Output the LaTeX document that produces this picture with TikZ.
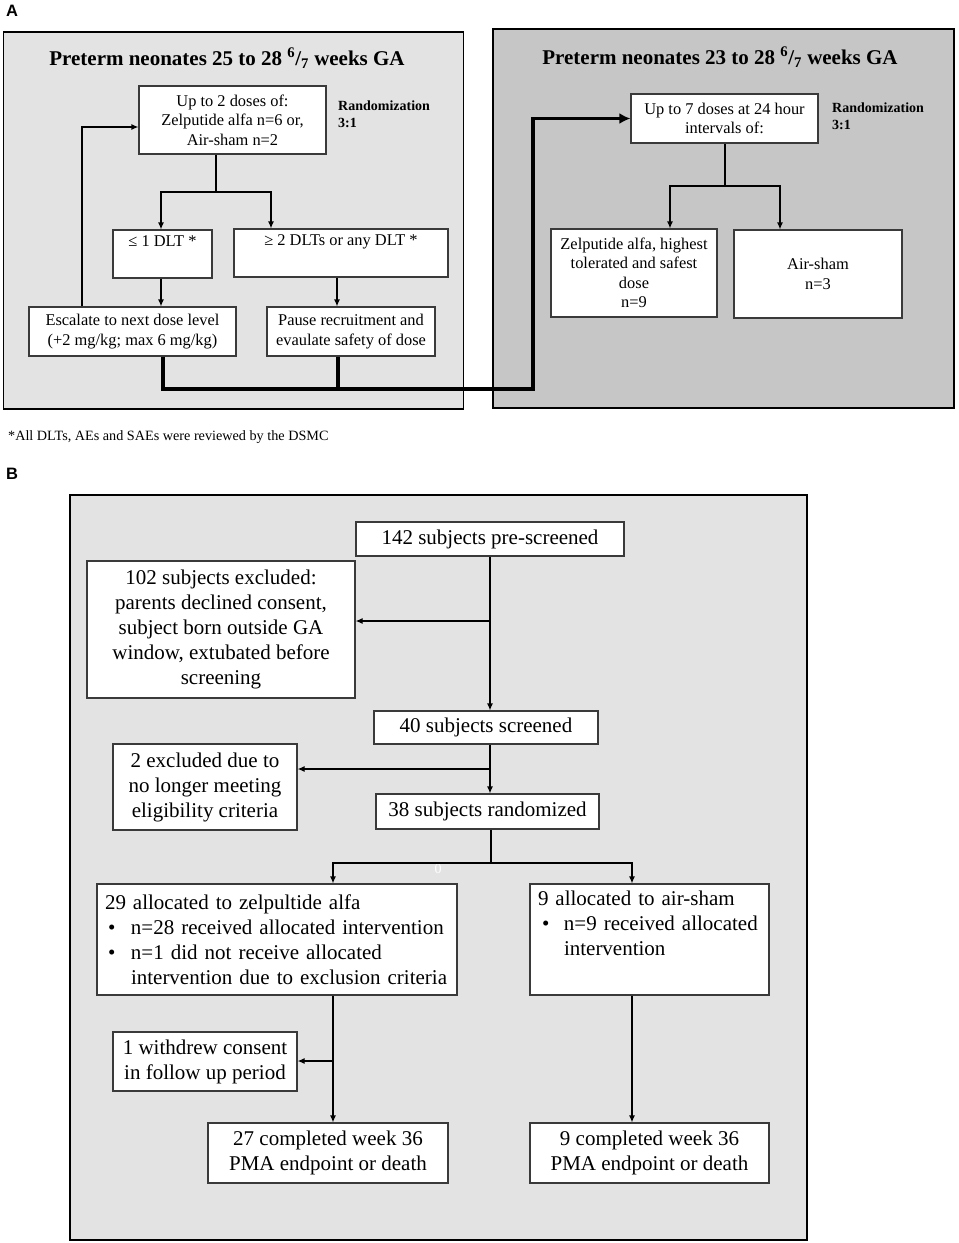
\documentclass[tikz,border=0pt]{standalone}
\usepackage{fontspec}
\setmainfont{Liberation Serif}
\newfontfamily\labfont{Liberation Sans}
\usetikzlibrary{arrows.meta,calc}
\definecolor{panelL}{HTML}{E3E3E3}
\definecolor{panelR}{HTML}{C6C6C6}
\definecolor{boxline}{HTML}{3A3A3A}
\begin{document}
\begin{tikzpicture}[x=1pt,y=-1pt,
  panel/.style={draw=black,line width=1.8pt,inner sep=0pt},
  box/.style={draw=boxline,fill=white,line width=1.2pt,inner sep=0pt,align=center},
  fa/.style={font=\fontsize{16.4}{19.5}\selectfont},
  fb/.style={font=\fontsize{21}{25}\selectfont},
  titlefont/.style={inner sep=0pt,font=\bfseries\fontsize{21}{25}\selectfont},
  randlab/.style={anchor=west,align=left,inner sep=0pt,font=\bfseries\fontsize{14}{16.5}\selectfont},
  panellab/.style={inner sep=0pt,font=\labfont\bfseries\fontsize{16.5}{16.5}\selectfont},
  conn/.style={line width=1.2pt},
  arr/.style={conn,-{Latex[length=7pt,width=6pt]}},
  thickline/.style={line width=3.5pt},
  thickarr/.style={thickline,-{Latex[length=11pt,width=11pt]}}]
\fill[white] (0,0) rectangle (959,1243);
\useasboundingbox (0,0) rectangle (959,1243);

% ---------- Panel A ----------
\node[panellab] (LA) at (12,11) {A};
\node[panel,fill=panelL,minimum width=460pt,minimum height=377pt] (pL) at (233.5,220.5) {};
\node[panel,fill=panelR,minimum width=461pt,minimum height=379pt] (pR) at (723.5,218.5) {};

\node[titlefont] (tL) at (227,58) {Preterm neonates 25 to 28 \textsuperscript{6}/\textsubscript{7} weeks GA};
\node[titlefont] (tR) at (720,57) {Preterm neonates 23 to 28 \textsuperscript{6}/\textsubscript{7} weeks GA};

\node[box,fa,minimum width=187pt,minimum height=68pt] (up2) at (232.5,120) {Up to 2 doses of:\\Zelputide alfa n=6 or,\\Air-sham n=2};
\node[randlab] (r1) at (338,114) {Randomization\\3:1};
\node[box,fa,minimum width=99pt,minimum height=48pt] (le1) at (162.5,254) {≤ 1 DLT *\\\strut};
\node[box,fa,minimum width=214pt,minimum height=48pt] (ge2) at (341,253) {≥ 2 DLTs or any DLT *\\\strut};
\node[box,fa,minimum width=207pt,minimum height=49pt] (esc) at (132.5,331.5) {Escalate to next dose level\\(+2 mg/kg; max 6 mg/kg)};
\node[box,fa,minimum width=168pt,minimum height=49pt] (pause) at (351,331.5) {Pause recruitment and\\evaulate safety of dose};

\node[box,fa,minimum width=187pt,minimum height=49pt] (up7) at (724.5,118.5) {Up to 7 doses at 24 hour\\intervals of:};
\node[randlab] (r2) at (832,116) {Randomization\\3:1};
\node[box,fa,minimum width=166pt,minimum height=88pt] (zel) at (634,273) {Zelputide alfa, highest\\tolerated and safest\\dose\\n=9};
\node[box,fa,minimum width=168pt,minimum height=88pt] (air) at (818,274) {Air-sham\\n=3};

% connectors left panel
\coordinate (s0) at ([xshift=-16.5pt]up2.south);
\coordinate (jA) at (216,192);
\draw[conn] (s0) -- (jA);
\draw[arr] (jA) -| ([xshift=-1.5pt]le1.north);
\draw[arr] (jA) -| ([xshift=-70pt]ge2.north);
\coordinate (a1) at ([xshift=-1.5pt]le1.south);
\draw[arr] (a1) -- (a1 |- esc.north);
\coordinate (a2) at ([xshift=-4pt]ge2.south);
\draw[arr] (a2) -- (a2 |- pause.north);
\coordinate (fb0) at ([xshift=-50.5pt]esc.north);
\draw[arr] (fb0) |- ([yshift=-7pt]up2.west);

% thick connector
\coordinate (t1) at ([xshift=30.5pt]esc.south);
\coordinate (cT) at (533,389);
\draw[thickarr] (t1) |- (cT) |- (up7.west);
\coordinate (t2) at ([xshift=-13pt]pause.south);
\draw[thickline] (t2) -- (t2 |- cT);

% connectors right panel
\coordinate (s1) at ([xshift=0.5pt]up7.south);
\coordinate (jR) at (725,186);
\draw[conn] (s1) -- (jR);
\draw[arr] (jR) -| ([xshift=36pt]zel.north);
\draw[arr] (jR) -| ([xshift=-38pt]air.north);

\node[anchor=west,inner sep=0pt,font=\fontsize{14.2}{16}\selectfont] (fn) at (8,437) {*All DLTs, AEs and SAEs were reviewed by the DSMC};

% ---------- Panel B ----------
\node[panellab] (LB) at (12,474) {B};
\node[panel,fill=panelL,minimum width=737pt,minimum height=745pt] (pB) at (438.5,867.5) {};

\node[box,fb,minimum width=268pt,minimum height=34pt] (pre) at (490,539) {142 subjects pre-screened};
\node[box,fb,minimum width=268pt,minimum height=137pt] (ex1) at (221,629.5) {102 subjects excluded:\\parents declined consent,\\subject born outside GA\\window, extubated before\\screening};
\node[box,fb,minimum width=224pt,minimum height=33pt] (scr) at (486,727.5) {40 subjects screened};
\node[box,fb,minimum width=184pt,minimum height=86pt] (ex2) at (205,787) {2 excluded due to\\no longer meeting\\eligibility criteria};
\node[box,fb,minimum width=223pt,minimum height=35pt] (rnd) at (487.5,811.5) {38 subjects randomized};
\node[box,fb,minimum width=360pt,minimum height=111pt,text width=344pt,align=left] (al29) at (277,939.5) {29 allocated to zelpultide alfa\\\makebox[26pt][l]{\hspace{3pt}•}n=28 received allocated intervention\\\makebox[26pt][l]{\hspace{3pt}•}n=1 did not receive allocated\\\hspace*{26pt}intervention due to exclusion criteria};
\node[box,fb,minimum width=239pt,minimum height=111pt,text width=223pt,align=left] (al9) at (649.5,939.5) {9 allocated to air-sham\\\makebox[26pt][l]{\hspace{4pt}•}n=9 received allocated\\\hspace*{26pt}intervention\\\strut};
\node[box,fb,minimum width=184pt,minimum height=59pt] (wd) at (205,1061.5) {1 withdrew consent\\in follow up period};
\node[box,fb,minimum width=240pt,minimum height=60pt] (c27) at (328,1153) {27 completed week 36\\PMA endpoint or death};
\node[box,fb,minimum width=239pt,minimum height=60pt] (c9) at (649.5,1153) {9 completed week 36\\PMA endpoint or death};
\node[text=white,inner sep=0pt,font=\fontsize{14}{14}\selectfont] (zero) at (438,869) {0};

\draw[arr] (pre.south) -- (pre.south |- scr.north);
\coordinate (b1) at (490,621);
\draw[arr] (b1) -- (b1 -| ex1.east);
\coordinate (s2) at ([xshift=4pt]scr.south);
\draw[arr] (s2) -- (s2 |- rnd.north);
\coordinate (b2) at (490,769);
\draw[arr] (b2) -- (b2 -| ex2.east);
\coordinate (s3) at ([xshift=3.5pt]rnd.south);
\coordinate (b3) at (491,863);
\draw[conn] (s3) -- (b3);
\draw[arr] (b3) -| ([xshift=56pt]al29.north);
\draw[arr] (b3) -| ([xshift=-17.5pt]al9.north);
\coordinate (s4) at ([xshift=56pt]al29.south);
\draw[arr] (s4) -- (s4 |- c27.north);
\coordinate (b4) at (333,1061);
\draw[arr] (b4) -- (b4 -| wd.east);
\coordinate (s5) at ([xshift=-17.5pt]al9.south);
\draw[arr] (s5) -- (s5 |- c9.north);
\end{tikzpicture}
\end{document}
